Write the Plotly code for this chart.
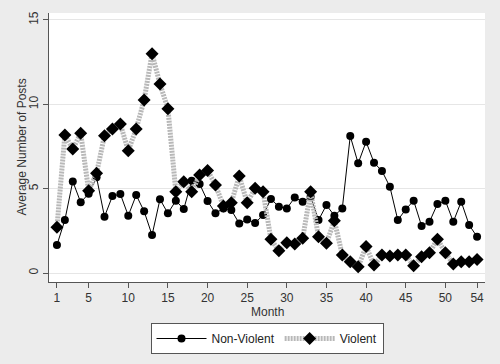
import plotly.graph_objects as go

months = list(range(1, 55))
non_violent = [1.66, 3.14, 5.43, 4.19, 4.70, 5.67, 3.34, 4.56, 4.68, 3.40,
               4.62, 3.66, 2.25, 4.37, 3.54, 4.29, 3.79, 5.47, 5.28, 4.27,
               3.54, 3.83, 3.73, 2.94, 3.18, 2.96, 3.44, 4.39, 3.93, 3.83,
               4.47, 4.23, 4.52, 3.14, 4.03, 3.40, 3.83, 8.12, 6.50, 7.78,
               6.54, 6.05, 5.12, 3.14, 3.77, 4.29, 2.79, 3.04, 4.09, 4.29,
               3.04, 4.23, 2.85, 2.15]
violent = [2.71, 8.18, 7.35, 8.28, 4.88, 5.91, 8.14, 8.54, 8.83, 7.25,
           8.54, 10.25, 13.0, 11.2, 9.74, 4.82, 5.41, 4.82, 5.81, 6.07,
           5.22, 3.97, 4.17, 5.75, 4.17, 5.02, 4.82, 2.00, 1.32, 1.80,
           1.72, 2.06, 4.82, 2.15, 1.76, 3.10, 1.07, 0.67, 0.37, 1.58,
           0.47, 1.07, 1.01, 1.07, 1.07, 0.43, 0.97, 1.21, 2.01, 1.21,
           0.53, 0.67, 0.67, 0.81]
x_ticks = [1, 5, 10, 15, 20, 25, 30, 35, 40, 45, 50, 54]
y_ticks = [0, 5, 10, 15]

font = "Liberation Sans, Arial, sans-serif"

fig = go.Figure()
fig.add_trace(go.Scatter(
    x=months, y=non_violent, name="Non-Violent", mode="lines+markers",
    line=dict(color="black", width=1),
    marker=dict(symbol="circle", size=8, color="black"),
))
fig.add_trace(go.Scatter(
    x=months, y=violent, name="Violent", mode="lines+markers",
    line=dict(color="#b8b8b8", width=5, dash="2px,1px"),
    marker=dict(symbol="diamond", size=10, color="black"),
))

fig.update_layout(
    width=500, height=364,
    paper_bgcolor="#ececec", plot_bgcolor="white",
    margin=dict(l=49, r=15, t=13, b=82, autoexpand=False),
    font=dict(family=font, size=12, color="#333"),
    showlegend=True,
    legend=dict(
        orientation="h", x=0.5, xanchor="center",
        yref="container", y=0.1126, yanchor="top",
        bgcolor="white", bordercolor="#555", borderwidth=1,
        font=dict(size=12, color="#222"), itemwidth=50,
        traceorder="normal",
    ),
    xaxis=dict(
        range=[0, 55], tickvals=x_ticks, ticks="outside", ticklen=5,
        tickcolor="#555", showline=True, linecolor="#555", linewidth=1,
        showgrid=False, zeroline=False, automargin=False,
    ),
    yaxis=dict(
        range=[-0.53, 15.41], tickvals=y_ticks, ticks="outside", ticklen=5,
        tickcolor="#555", showline=True, linecolor="#555", linewidth=1,
        showgrid=True, gridcolor="#e6e6e6", zeroline=False, tickangle=-90,
        automargin=False,
    ),
    annotations=[
        dict(text="Average Number of Posts", xref="paper", yref="paper",
             x=-0.0642, y=0.5, xanchor="center", yanchor="middle",
             textangle=-90, showarrow=False, font=dict(size=12, color="#333")),
        dict(text="Month", xref="paper", yref="paper",
             x=0.5, y=-0.112, xanchor="center", yanchor="middle",
             showarrow=False, font=dict(size=12, color="#333")),
    ],
)

fig.write_html("out.html", config={"displayModeBar": False},
               post_script="document.body.style.margin='0';document.body.style.overflow='hidden';")
